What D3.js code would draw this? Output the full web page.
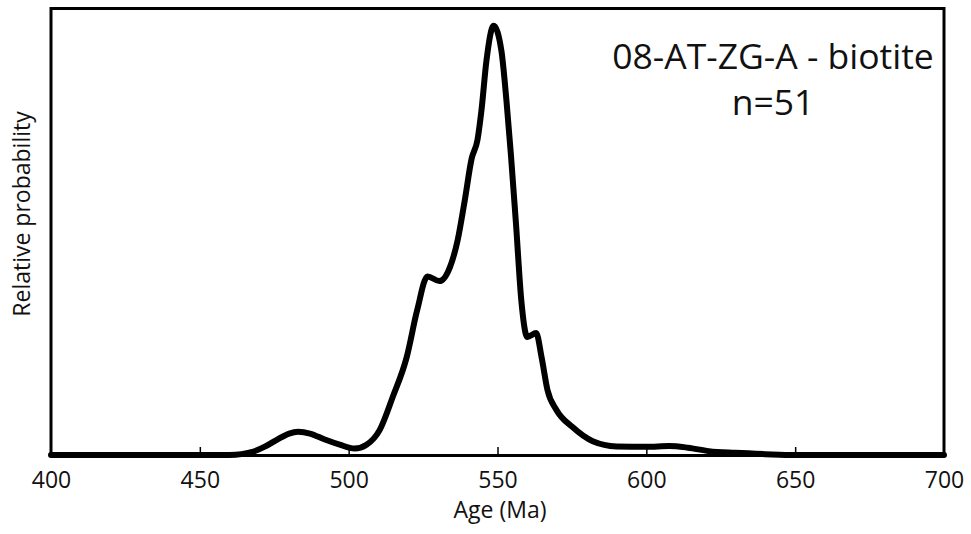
<!DOCTYPE html>
<html>
<head>
<meta charset="utf-8">
<script src="https://cdn.jsdelivr.net/npm/d3@7"></script>
<style>
  html, body { margin: 0; padding: 0; background: #fff; }
  svg { display: block; }
  text { font-family: "Open Sans", "Noto Sans", sans-serif; fill: #111; }
</style>
</head>
<body>
<svg id="chart" width="971" height="534"></svg>
<script>
// Data (age in Ma, relative probability)
const ages = [400, 440, 460, 464, 468, 472, 476, 480, 483, 487, 492, 497, 502, 506, 510.4, 514.8, 519.5, 523, 526.5, 530.5, 534, 536.6, 539, 541.3, 543.3, 544.6, 546.3, 548.7, 551.3, 553, 554.5, 556.2, 558, 560, 563, 564.8, 566.8, 569.8, 575.2, 582, 590, 600, 607.7, 614, 621, 630, 640, 650, 700];
const probs = [0, 0, 0, 0.002, 0.008, 0.02, 0.036, 0.05, 0.054, 0.05, 0.036, 0.024, 0.015, 0.024, 0.058, 0.135, 0.228, 0.337, 0.416, 0.405, 0.437, 0.5, 0.593, 0.69, 0.735, 0.802, 0.919, 1.0, 0.942, 0.826, 0.7, 0.54, 0.36, 0.275, 0.284, 0.228, 0.151, 0.105, 0.065, 0.032, 0.02, 0.019, 0.021, 0.017, 0.009, 0.005, 0.002, 0, 0];
const xTicks = [400, 450, 500, 550, 600, 650, 700];
const titleLines = ["08-AT-ZG-A - biotite", "n=51"];
const xLabel = "Age (Ma)";
const yLabel = "Relative probability";

const svg = d3.select("#chart");
const mLeft = 51, mRight = 944, mTop = 8.5, mBottom = 455;

const x = d3.scaleLinear().domain([400, 700]).range([mLeft, mRight]);
const y = d3.scaleLinear().domain([0, 1.04]).range([mBottom, mTop]);

// frame (left, top, right)
svg.append("path")
  .attr("d", `M${mLeft},${mBottom} V${mTop} H${mRight} V${mBottom}`)
  .attr("fill", "none").attr("stroke", "#000").attr("stroke-width", 3);

// curve
const pts = ages.map((a, i) => [a, probs[i]]);
svg.append("path")
  .datum(pts)
  .attr("fill", "none")
  .attr("stroke", "#000")
  .attr("stroke-width", 6)
  .attr("stroke-linejoin", "round")
  .attr("stroke-linecap", "round")
  .attr("d", d3.line().x(d => x(d[0])).y(d => y(d[1])).curve(d3.curveMonotoneX));

// x axis
const xAxis = d3.axisBottom(x).tickValues(xTicks).tickSize(0).tickPadding(17).tickFormat(d3.format("d"));
const gx = svg.append("g").attr("transform", `translate(0,${mBottom})`).call(xAxis);
gx.select(".domain").attr("stroke", "#000").attr("stroke-width", 3);
gx.selectAll(".tick text").attr("font-size", 23).attr("font-family", "Open Sans").attr("fill", "#111");
// inner tick marks
gx.selectAll(".tick").filter(d => d !== 400 && d !== 700)
  .append("line").attr("y1", 0).attr("y2", -8).attr("stroke", "#000").attr("stroke-width", 1.5);

// axis labels
svg.append("text").attr("x", 500).attr("y", 518).attr("text-anchor", "middle")
  .attr("font-size", 23).text(xLabel);
svg.append("text").attr("transform", "translate(30,214) rotate(-90)").attr("text-anchor", "middle")
  .attr("font-size", 23).text(yLabel);

// title (single text block, two lines)
const title = svg.append("text")
  .attr("x", 773).attr("y", 69)
  .attr("text-anchor", "middle").attr("font-size", 35.5);
title.selectAll("tspan").data(titleLines).enter().append("tspan")
  .attr("x", 773).attr("dy", (d, i) => i === 0 ? 0 : 46)
  .text(d => d);
</script>
</body>
</html>
